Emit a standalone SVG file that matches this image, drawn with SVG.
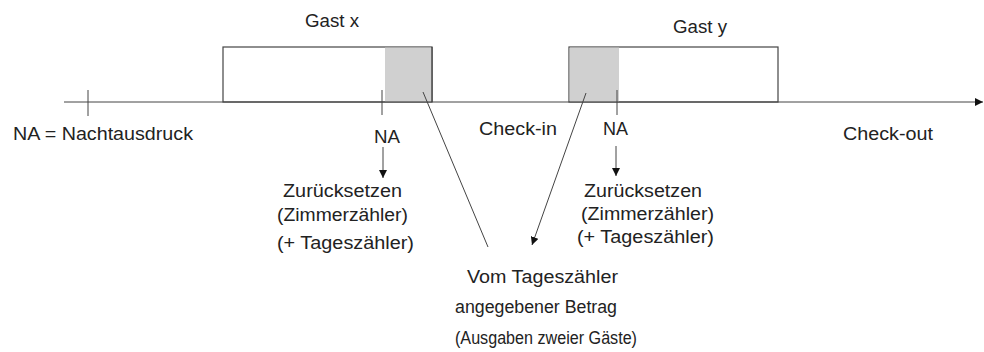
<svg xmlns="http://www.w3.org/2000/svg" width="984" height="352" viewBox="0 0 984 352">
<style>
text{font-family:"Liberation Sans",Arial,sans-serif;font-size:17.5px;fill:#222}
.ln{stroke:#444;stroke-width:1;fill:none}
.box{fill:#fff;stroke:#444;stroke-width:1.2}
.gray{fill:#d0d0d0;stroke:none}
</style>
<defs>
<marker id="ah" viewBox="0 0 10 10" refX="10" refY="5" markerWidth="8" markerHeight="8" markerUnits="userSpaceOnUse" orient="auto">
<path d="M0,0 L10,5 L0,10 z" fill="#111"/>
</marker>
</defs>
<rect width="984" height="352" fill="#fff"/>
<g id="gast-x">
<rect class="box" x="223" y="47" width="209" height="55"/>
<rect class="gray" x="385" y="47.6" width="46.4" height="54"/>
<line class="ln" x1="432" y1="47" x2="432" y2="102" style="stroke-width:1.2"/>
<text x="305" y="27" textLength="54" lengthAdjust="spacingAndGlyphs">Gast x</text>
</g>
<g id="gast-y">
<rect class="box" x="569" y="47" width="209" height="55"/>
<rect class="gray" x="569.6" y="47.6" width="49.4" height="54"/>
<text x="673" y="33" textLength="54" lengthAdjust="spacingAndGlyphs">Gast y</text>
</g>
<g id="connectors">
<line class="ln" x1="64" y1="102" x2="983" y2="102" marker-end="url(#ah)"/>
<line class="ln" x1="88" y1="90" x2="88" y2="116"/>
<line class="ln" x1="382" y1="90" x2="382" y2="115"/>
<line class="ln" x1="617" y1="90" x2="617" y2="115"/>
<line class="ln" x1="383" y1="147" x2="383" y2="178" marker-end="url(#ah)"/>
<line class="ln" x1="616" y1="146" x2="616" y2="176" marker-end="url(#ah)"/>
<line class="ln" x1="423" y1="92" x2="488" y2="247"/>
<line class="ln" x1="586" y1="93" x2="532" y2="245" marker-end="url(#ah)"/>
</g>
<g id="legend">
<text x="13" y="140" textLength="180" lengthAdjust="spacingAndGlyphs">NA = Nachtausdruck</text>
</g>
<g id="na-1">
<text x="374" y="143" textLength="26" lengthAdjust="spacingAndGlyphs">NA</text>
<text x="283" y="197" textLength="119" lengthAdjust="spacingAndGlyphs">Zurücksetzen</text>
<text x="277" y="221" textLength="131" lengthAdjust="spacingAndGlyphs">(Zimmerzähler)</text>
<text x="277" y="249" textLength="137" lengthAdjust="spacingAndGlyphs">(+ Tageszähler)</text>
</g>
<g id="check-in">
<text x="479" y="135" textLength="78" lengthAdjust="spacingAndGlyphs">Check-in</text>
</g>
<g id="na-2">
<text x="603" y="135" textLength="25" lengthAdjust="spacingAndGlyphs">NA</text>
<text x="584" y="197" textLength="118" lengthAdjust="spacingAndGlyphs">Zurücksetzen</text>
<text x="581" y="220" textLength="133" lengthAdjust="spacingAndGlyphs">(Zimmerzähler)</text>
<text x="577" y="243" textLength="137" lengthAdjust="spacingAndGlyphs">(+ Tageszähler)</text>
</g>
<g id="check-out">
<text x="843" y="140" textLength="90" lengthAdjust="spacingAndGlyphs">Check-out</text>
</g>
<g id="betrag">
<text x="467" y="283" textLength="151" lengthAdjust="spacingAndGlyphs">Vom Tageszähler</text>
<text x="455" y="313" textLength="162" lengthAdjust="spacingAndGlyphs">angegebener Betrag</text>
<text x="455" y="344" textLength="182" lengthAdjust="spacingAndGlyphs">(Ausgaben zweier Gäste)</text>
</g>
</svg>
